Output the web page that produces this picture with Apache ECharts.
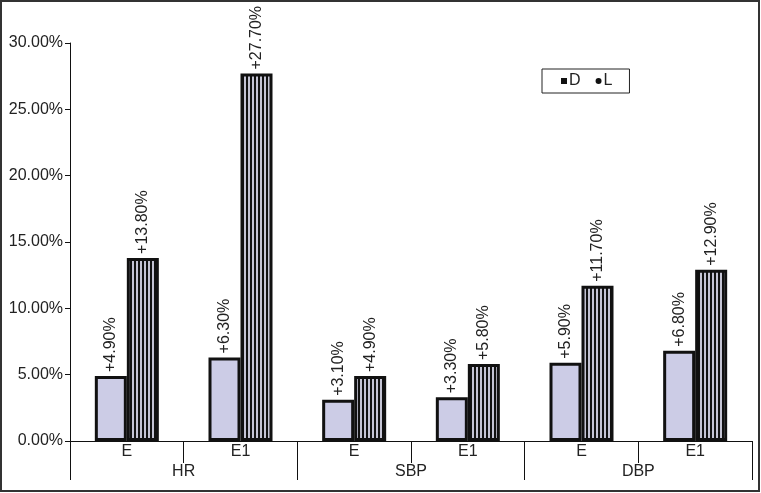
<!DOCTYPE html>
<html>
<head>
<meta charset="utf-8">
<script src="https://cdn.jsdelivr.net/npm/echarts@6/dist/echarts.min.js"></script>
<style>html,body{margin:0;padding:0;background:#fff;}#c{width:761px;height:493px;}</style>
</head>
<body>
<div id="c"></div>
<script>
const subCategories = ['E', 'E1', 'E', 'E1', 'E', 'E1'];
const groups = ['HR', 'SBP', 'DBP'];
const seriesNames = ['D', 'L'];
const valuesD = [4.9, 6.3, 3.1, 3.3, 5.9, 6.8];
const valuesL = [13.8, 27.7, 4.9, 5.8, 11.7, 12.9];
const yTicks = [0, 5, 10, 15, 20, 25, 30];

const FONT = 'Liberation Sans, Arial, sans-serif';
const TXT = '#222';
const FS = 16;

// vertical stripe pattern for L
const pc = document.createElement('canvas');
pc.width = 4; pc.height = 4;
const pctx = pc.getContext('2d');
pctx.fillStyle = '#111';
pctx.fillRect(0, 0, 4, 4);
pctx.fillStyle = '#c4c4d4';
pctx.fillRect(0, 0, 2, 4);

const chart = echarts.init(document.getElementById('c'), null, {renderer: 'canvas'});

const labelOpt = {
  show: true,
  position: 'top',
  rotate: 90,
  align: 'left',
  verticalAlign: 'middle',
  distance: 4,
  color: TXT,
  fontFamily: FONT,
  fontSize: FS,
  formatter: p => '+' + p.value.toFixed(2) + '%'
};

chart.setOption({
  animation: false,
  backgroundColor: '#fff',
  grid: {left: 70, right: 9, top: 43, bottom: 52},
  legend: {
    left: 542, top: 69,
    orient: 'horizontal',
    borderColor: '#222', borderWidth: 1,
    padding: [4, 17, 4, 19],
    itemWidth: 6, itemHeight: 6, itemGap: 15,
    textStyle: {fontFamily: FONT, fontSize: FS, color: TXT, padding: [0, 0, 0, -3]},
    data: [
      {name: seriesNames[0], icon: 'rect', itemStyle: {color: '#111', borderWidth: 0}},
      {name: seriesNames[1], icon: 'circle', itemStyle: {color: '#111', borderWidth: 0}}
    ]
  },
  xAxis: [
    {
      type: 'category', data: subCategories, gridIndex: 0, position: 'bottom',
      axisLine: {show: true, lineStyle: {color: '#111', width: 1}},
      axisTick: {show: true, length: 22, interval: 0, lineStyle: {color: '#111'}},
      axisLabel: {margin: 3, color: TXT, fontFamily: FONT, fontSize: FS, interval: 0},
      splitLine: {show: false}
    },
    {
      type: 'category', data: groups, gridIndex: 0, position: 'bottom',
      axisLine: {show: false},
      axisTick: {show: true, length: 39, interval: 0, lineStyle: {color: '#111'}},
      axisLabel: {margin: 23, color: TXT, fontFamily: FONT, fontSize: FS, interval: 0},
      splitLine: {show: false}
    }
  ],
  yAxis: {
    type: 'value', min: yTicks[0], max: yTicks[yTicks.length - 1], interval: yTicks[1] - yTicks[0],
    axisLine: {show: true, lineStyle: {color: '#111'}},
    axisTick: {show: true, length: 5, lineStyle: {color: '#111'}},
    axisLabel: {margin: 7, color: TXT, fontFamily: FONT, fontSize: FS, formatter: v => v.toFixed(2) + '%'},
    splitLine: {show: false}
  },
  series: [
    {
      name: seriesNames[0], type: 'bar', xAxisIndex: 0, data: valuesD,
      barWidth: 32, barGap: '0%',
      itemStyle: {color: '#ccccE6', borderColor: '#111', borderWidth: 3},
      label: labelOpt
    },
    {
      name: seriesNames[1], type: 'bar', xAxisIndex: 0, data: valuesL,
      barWidth: 32, barGap: '0%',
      itemStyle: {color: {image: pc, repeat: 'repeat'}, borderColor: '#111', borderWidth: 3},
      label: labelOpt
    }
  ],
  graphic: [
    {type: 'rect', shape: {x: 1, y: 1, width: 758, height: 490}, style: {fill: 'none', stroke: '#333', lineWidth: 2}, silent: true}
  ]
});
</script>
</body>
</html>
